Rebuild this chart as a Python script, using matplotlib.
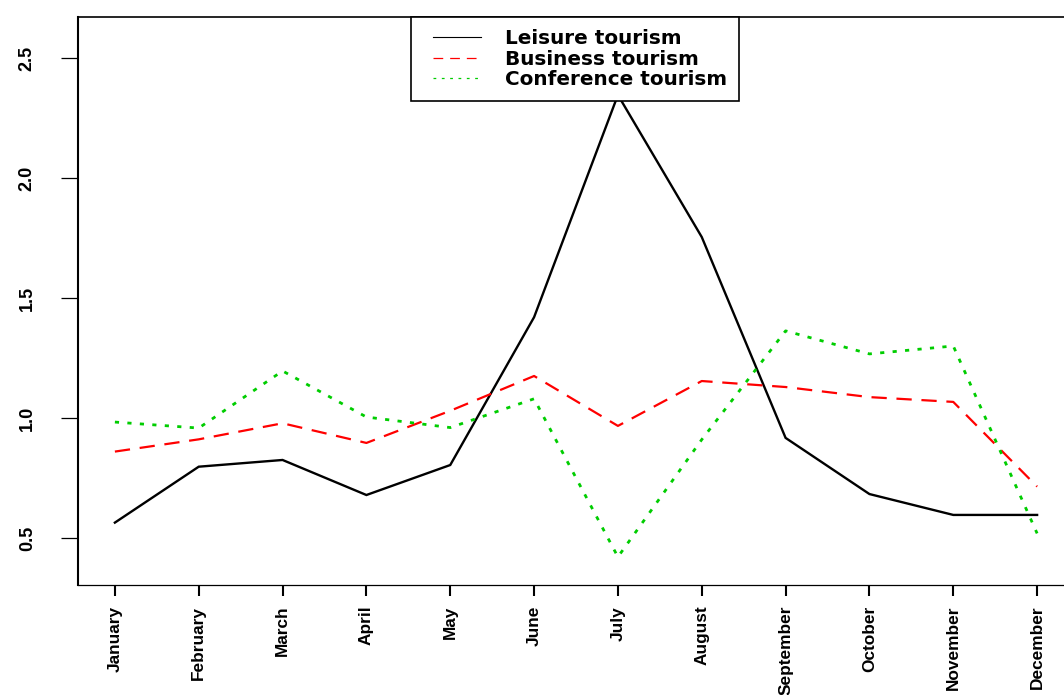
import matplotlib
matplotlib.use("Agg")
import matplotlib.pyplot as plt
from matplotlib.lines import Line2D
from matplotlib.legend_handler import HandlerLine2D

plt.rcParams['lines.scale_dashes'] = False

months = ["January", "February", "March", "April", "May", "June", "July",
          "August", "September", "October", "November", "December"]
leisure = [0.564, 0.797, 0.825, 0.679, 0.804, 1.42, 2.346, 1.754, 0.917, 0.683, 0.596, 0.596]
business = [0.86, 0.911, 0.978, 0.896, 1.03, 1.175, 0.967, 1.154, 1.129, 1.087, 1.067, 0.714]
conference = [0.983, 0.958, 1.196, 1.004, 0.96, 1.08, 0.421, 0.91, 1.363, 1.267, 1.30, 0.519]
series_names = ["Leisure tourism", "Business tourism", "Conference tourism"]
yticks = [0.5, 1.0, 1.5, 2.0, 2.5]

W, H = 1064, 695
fig = plt.figure(figsize=(W / 100, H / 100), dpi=100)
left_px, right_px, top_px, bot_px = 78, 1074, 17, 585
ax = fig.add_axes([left_px / W, 1 - bot_px / H, (right_px - left_px) / W, (bot_px - top_px) / H])

x = list(range(1, len(months) + 1))
ax.plot(x, leisure, color="black", lw=1.7, solid_joinstyle="miter")
ax.plot(x, business, color="#ff0000", lw=1.6, dashes=(11, 7))
ax.plot(x, conference, color="#00cd00", lw=2.0, dashes=(3, 6))

ax.set_xlim(0.56, 12.44)
ax.set_ylim(0.304, 2.671)

ax.set_xticks(x)
ax.set_xticklabels(months, rotation=90, family="Liberation Sans", fontweight="bold",
                   fontsize=12.4, va="top", ha="center")
ax.set_yticks(yticks)
ax.set_yticklabels([f"{v:.1f}" for v in yticks], rotation=90, family="Liberation Sans",
                   fontweight="bold", fontsize=13, va="center", ha="center")

ax.tick_params(axis="x", length=8, width=1.5, pad=7, color="black")
ax.tick_params(axis="y", length=12.5, width=0.9, pad=24, color="black")

ax.spines["left"].set_linewidth(1.5)
ax.spines["bottom"].set_linewidth(0.9)
ax.spines["top"].set_linewidth(1.2)
ax.spines["right"].set_linewidth(1.2)

handles = [
    Line2D([], [], color="black", lw=0.8),
    Line2D([], [], color="#ff0000", lw=0.9, dashes=(7, 5)),
    Line2D([], [], color="#00cd00", lw=0.9, dashes=(2, 4)),
]
hmap = {h: HandlerLine2D(xpad=0.5) for h in handles}
leg = ax.legend(handles, series_names, loc="upper left", handler_map=hmap,
                bbox_to_anchor=(411 / W, 1 - 17 / H), bbox_transform=fig.transFigure,
                borderaxespad=0, fancybox=False, framealpha=1, edgecolor="black",
                prop={"family": "DejaVu Sans", "weight": "bold", "size": 14.4},
                handlelength=2.9, handletextpad=1.2, labelspacing=0.08, borderpad=0.6)
leg.get_frame().set_linewidth(1.2)

fig.savefig("out.png", dpi=100)
